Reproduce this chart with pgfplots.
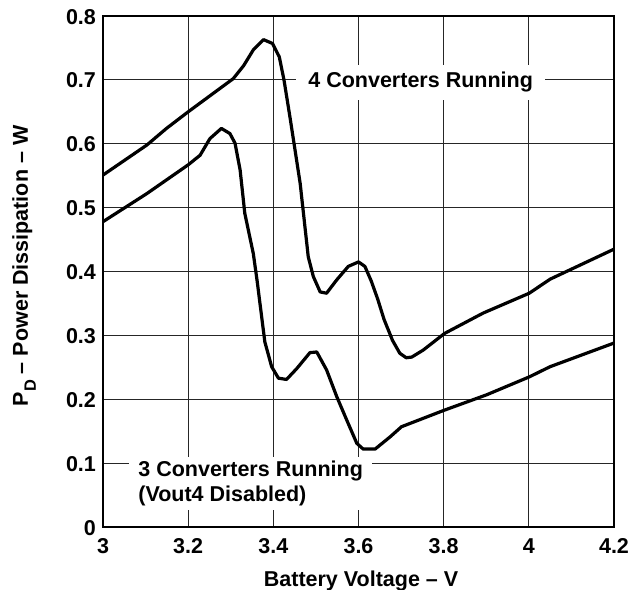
\documentclass[border=0pt]{standalone}
\usepackage{fontspec}
\setmainfont{Liberation Sans}
\usepackage{pgfplots}
\pgfplotsset{compat=1.18}
\newcommand{\lbl}{\fontsize{10.75}{12.2}\selectfont\bfseries}
\begin{document}
\begin{tikzpicture}
\useasboundingbox (-51.5pt,-31.5pt) rectangle (265pt,263.5pt);
\begin{axis}[
  at={(0,0)}, anchor=south west,
  width=255.5pt, height=255.5pt, scale only axis,
  xmin=3, xmax=4.2, ymin=0, ymax=0.8,
  xtick={3,3.2,3.4,3.6,3.8,4,4.2},
  xticklabels={3,3.2,3.4,3.6,3.8,4,4.2},
  ytick={0,0.1,0.2,0.3,0.4,0.5,0.6,0.7,0.8},
  yticklabels={0,0.1,0.2,0.3,0.4,0.5,0.6,0.7,0.8},
  major tick length=0pt,
  grid=major,
  major grid style={line width=0.5pt, color=black!85},
  axis line style={line width=1.3pt},
  tick label style={font=\lbl, text height=8pt, text depth=0pt},
  xticklabel style={yshift=-1.5pt},
  xlabel={Battery Voltage -- V},
  ylabel={P\raisebox{-4pt}{\fontsize{8.2}{8}\selectfont D} -- Power Dissipation -- W},
  label style={font=\lbl},
  xlabel style={at={(axis description cs:0.505,0)}, anchor=base, yshift=-29.5pt},
  ylabel style={at={(axis description cs:-0.1468,0.511)}, anchor=base},
  clip=true,
]
% 4 converters running
\addplot[black, line width=1.6pt, line join=round] table {
x y
3.000 0.551
3.103 0.598
3.149 0.624
3.200 0.650
3.306 0.702
3.330 0.722
3.353 0.747
3.377 0.763
3.398 0.757
3.414 0.736
3.425 0.700
3.439 0.642
3.463 0.538
3.482 0.423
3.494 0.392
3.510 0.368
3.525 0.366
3.549 0.387
3.576 0.408
3.600 0.415
3.615 0.408
3.630 0.385
3.645 0.357
3.660 0.325
3.680 0.292
3.697 0.272
3.712 0.265
3.725 0.266
3.752 0.277
3.802 0.303
3.893 0.335
4.001 0.366
4.050 0.388
4.200 0.435
};
% 3 converters running
\addplot[black, line width=1.6pt, line join=round] table {
x y
3.000 0.478
3.103 0.522
3.200 0.567
3.228 0.582
3.251 0.608
3.278 0.624
3.298 0.616
3.310 0.601
3.322 0.559
3.333 0.491
3.353 0.428
3.362 0.385
3.380 0.290
3.396 0.251
3.412 0.233
3.431 0.231
3.455 0.248
3.486 0.273
3.502 0.274
3.525 0.246
3.549 0.204
3.572 0.168
3.596 0.131
3.611 0.122
3.639 0.122
3.674 0.141
3.701 0.157
3.802 0.183
3.901 0.207
4.001 0.235
4.050 0.251
4.200 0.288
};
\node[fill=white, inner xsep=6pt, inner ysep=3.5pt, font=\lbl]
  at (axis cs:3.746,0.696) {4 Converters Running};
\node[fill=white, anchor=west, align=left, inner xsep=4.5pt, inner ysep=2pt, font=\lbl]
  at (axis cs:3.061,0.068) {3 Converters Running\\(Vout4 Disabled)};
\end{axis}
\end{tikzpicture}
\end{document}
